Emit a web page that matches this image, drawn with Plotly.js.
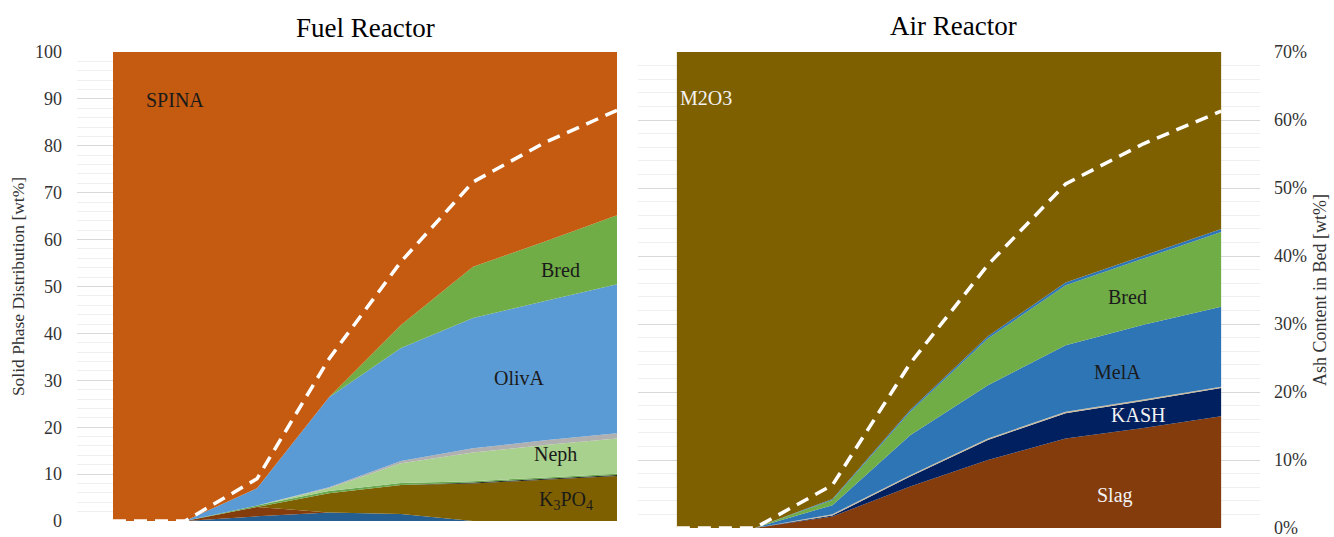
<!DOCTYPE html>
<html>
<head>
<meta charset="utf-8">
<script src="https://cdn.plot.ly/plotly-3.0.1.min.js"></script>
<style>html,body{margin:0;padding:0;background:#fff;}#chart{width:1334px;height:537px;}</style>
</head>
<body>
<div id="chart"></div>
<script>
// Category positions (steps along the process, unlabeled in the source)
const steps = [1, 2, 3, 4, 5, 6, 7, 8];

// Fuel Reactor, stacked solid phases [wt%], bottom to top
const fuelDarkBlue = [0, 0, 1.0, 1.8, 1.5, 0, 0, 0];
const fuelBrown    = [0, 0, 2.0, 0, 0, 0, 0, 0];
const fuelK3PO4    = [0, 0, 0, 4.1, 6.2, 8.0, 8.8, 9.6];
const fuelBlack    = [0, 0, 0, 0, 0, 0.2, 0.2, 0.2];
const fuelGreen2   = [0, 0, 0.3, 0.5, 0.4, 0.3, 0.3, 0.3];
const fuelNeph     = [0, 0, 0, 0.6, 4.2, 6.1, 6.9, 7.5];
const fuelGrey     = [0, 0, 0, 0.2, 0.5, 0.9, 1.0, 1.1];
const fuelOlivA    = [0, 0, 3.7, 19.2, 24.1, 27.8, 29.7, 31.8];
const fuelBred     = [0, 0, 0, 0, 4.9, 10.9, 12.7, 14.7];
const fuelSPINA    = [100, 100, 93.0, 73.6, 58.2, 45.8, 40.4, 34.8];

// Air Reactor, stacked solid phases [wt%], bottom to top
const airSlag     = [0, 0, 2.4, 8.7, 14.3, 18.8, 21.0, 23.5];
const airKASH     = [0, 0, 0.2, 2.1, 4.2, 5.3, 5.7, 5.9];
const airTan      = [0, 0, 0.3, 0.3, 0.3, 0.3, 0.3, 0.3];
const airMelA     = [0, 0, 1.9, 8.4, 11.2, 14.0, 15.7, 16.8];
const airBred     = [0, 0, 1.1, 4.9, 9.8, 12.6, 13.9, 15.7];
const airBlueLine = [0, 0, 0.2, 0.4, 0.5, 0.6, 0.6, 0.6];
const airM2O3     = [100, 100, 93.9, 75.2, 59.7, 48.4, 42.8, 37.2];

// Ash content in bed [wt%] (secondary axis, dashed line)
const ashContent = [0, 0, 6.3, 24.2, 38.7, 50.6, 56.5, 61.3];

// Secondary axis tick values
const ashTicks = [0, 10, 20, 30, 40, 50, 60, 70];

function area(y, color, xa, ya, grp, name) {
  return {
    type: 'scatter', x: steps, y: y, name: name,
    xaxis: xa, yaxis: ya, stackgroup: grp, mode: 'none',
    fill: 'tonexty', fillcolor: color, line: {width: 0},
    hoverinfo: 'name+y', showlegend: false
  };
}

const traces = [
  area(fuelDarkBlue, '#255E91', 'x', 'y', 'fuel', 'Dark blue phase'),
  area(fuelBrown,    '#843C0C', 'x', 'y', 'fuel', 'Brown phase'),
  area(fuelK3PO4,    '#7F6000', 'x', 'y', 'fuel', 'K3PO4'),
  area(fuelBlack,    '#262626', 'x', 'y', 'fuel', 'Minor phase'),
  area(fuelGreen2,   '#6AA84F', 'x', 'y', 'fuel', 'Minor green phase'),
  area(fuelNeph,     '#A9D18E', 'x', 'y', 'fuel', 'Neph'),
  area(fuelGrey,     '#B0B0B0', 'x', 'y', 'fuel', 'Grey phase'),
  area(fuelOlivA,    '#5B9BD5', 'x', 'y', 'fuel', 'OlivA'),
  area(fuelBred,     '#70AD47', 'x', 'y', 'fuel', 'Bred'),
  area(fuelSPINA,    '#C55A11', 'x', 'y', 'fuel', 'SPINA'),

  area(airSlag,     '#843C0C', 'x2', 'y2', 'air', 'Slag'),
  area(airKASH,     '#002060', 'x2', 'y2', 'air', 'KASH'),
  area(airTan,      '#C9BB9C', 'x2', 'y2', 'air', 'Tan phase'),
  area(airMelA,     '#2E75B6', 'x2', 'y2', 'air', 'MelA'),
  area(airBred,     '#70AD47', 'x2', 'y2', 'air', 'Bred'),
  area(airBlueLine, '#2E75B6', 'x2', 'y2', 'air', 'Blue phase'),
  area(airM2O3,     '#7F6000', 'x2', 'y2', 'air', 'M2O3'),

  {type: 'scatter', mode: 'lines', x: steps, y: ashContent, xaxis: 'x', yaxis: 'y3',
   line: {color: '#FFFFFF', width: 3.5, dash: '13px,8px'}, showlegend: false, name: 'Ash content'},
  {type: 'scatter', mode: 'lines', x: steps, y: ashContent, xaxis: 'x2', yaxis: 'y4',
   line: {color: '#FFFFFF', width: 3.5, dash: '13px,8px'}, showlegend: false, name: 'Ash content'}
];

const serif = 'Liberation Serif, Times New Roman, serif';
const tickFont = {family: serif, size: 18, color: '#333333'};
const lblFont = (c) => ({family: serif, size: 20, color: c});

const layout = {
  width: 1334, height: 537,
  margin: {l: 0, r: 0, t: 0, b: 0},
  paper_bgcolor: '#FFFFFF', plot_bgcolor: '#FFFFFF',
  showlegend: false,
  xaxis: {domain: [77/1334, 617/1334], range: [0.5, 8], visible: false, fixedrange: true},
  yaxis: {
    domain: [16/537, 485/537], range: [0, 100], dtick: 10, anchor: 'x',
    showgrid: true, gridcolor: '#D9D9D9', gridwidth: 1, zeroline: false,
    minor: {dtick: 2, showgrid: true, gridcolor: '#EFEFEF', gridwidth: 1},
    ticks: '', tickfont: tickFont, ticklabelstandoff: 14, automargin: false,
    ticklabeloverflow: 'allow',
    title: {text: 'Solid Phase Distribution [wt%]', font: {family: serif, size: 17.5, color: '#333333'}, standoff: 5}
  },
  yaxis3: {overlaying: 'y', anchor: 'x', range: [0, 70], visible: false},
  xaxis2: {domain: [638/1334, 1260/1334], range: [0.5, 8.5], visible: false, fixedrange: true, anchor: 'y2'},
  yaxis2: {domain: [9/537, 485/537], range: [0, 100], anchor: 'x2', showgrid: false,
           showticklabels: false, zeroline: false, ticks: ''},
  yaxis4: {
    overlaying: 'y2', anchor: 'x2', side: 'right', range: [0, 70],
    tickvals: ashTicks, ticktext: ashTicks.map(v => v + '%'),
    showgrid: true, gridcolor: '#D9D9D9', gridwidth: 1, zeroline: false,
    minor: {dtick: 2, showgrid: true, gridcolor: '#EFEFEF', gridwidth: 1},
    ticks: '', tickfont: tickFont, ticklabelstandoff: 13, automargin: false,
    ticklabeloverflow: 'allow',
    title: {text: 'Ash Content in Bed [wt%]', font: {family: serif, size: 18, color: '#333333'}, standoff: 7}
  },
  annotations: [
    {text: 'Fuel Reactor', xref: 'paper', yref: 'paper', x: 365/1334, y: 1 - 28/537,
     showarrow: false, font: {family: serif, size: 27, color: '#000'}, xanchor: 'center', yanchor: 'middle'},
    {text: 'Air Reactor', xref: 'paper', yref: 'paper', x: 953/1334, y: 1 - 26/537,
     showarrow: false, font: {family: serif, size: 27, color: '#000'}, xanchor: 'center', yanchor: 'middle'},

    {text: 'SPINA', xref: 'x', yref: 'y', x: 1.86, y: 89.8, showarrow: false, font: lblFont('#1a1a1a')},
    {text: 'Bred', xref: 'x', yref: 'y', x: 7.21, y: 53.5, showarrow: false, font: lblFont('#1a1a1a')},
    {text: 'OlivA', xref: 'x', yref: 'y', x: 6.65, y: 30.5, showarrow: false, font: lblFont('#1a1a1a')},
    {text: 'Neph', xref: 'x', yref: 'y', x: 7.15, y: 14.1, showarrow: false, font: lblFont('#1a1a1a')},
    {text: 'K<sub>3</sub>PO<sub>4</sub>', xref: 'x', yref: 'y', x: 7.29, y: 4.3, showarrow: false, font: lblFont('#1a1a1a')},

    {text: 'M2O3', xref: 'x2', yref: 'y2', x: 1.37, y: 90.3, showarrow: false, font: lblFont('#F2F2F2')},
    {text: 'Bred', xref: 'x2', yref: 'y2', x: 6.80, y: 48.5, showarrow: false, font: lblFont('#1a1a1a')},
    {text: 'MelA', xref: 'x2', yref: 'y2', x: 6.67, y: 32.8, showarrow: false, font: lblFont('#1a1a1a')},
    {text: 'KASH', xref: 'x2', yref: 'y2', x: 6.93, y: 23.7, showarrow: false, font: lblFont('#F2F2F2')},
    {text: 'Slag', xref: 'x2', yref: 'y2', x: 6.64, y: 6.9, showarrow: false, font: lblFont('#F2F2F2')}
  ]
};

Plotly.newPlot('chart', traces, layout, {displayModeBar: false, staticPlot: true});
</script>
</body>
</html>
